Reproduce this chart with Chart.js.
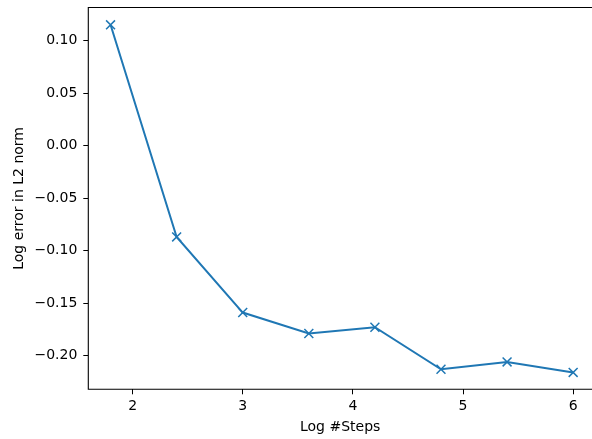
<!DOCTYPE html>
<html>
<head>
<meta charset="utf-8">
<script src="https://cdn.jsdelivr.net/npm/chart.js@4/dist/chart.umd.min.js"></script>
<style>
html,body{margin:0;padding:0;background:#fff;overflow:hidden;}
canvas{display:block;}
</style>
</head>
<body>
<canvas id="c" width="592" height="439" style="width:592px;height:439px"></canvas>
<script>
const logSteps = [1.8, 2.4, 3.0, 3.6, 4.2, 4.8, 5.4, 6.0];
const logError = [0.115, -0.087, -0.159, -0.179, -0.173, -0.213, -0.206, -0.216];
const xTicks = [2, 3, 4, 5, 6];
const yTicks = [-0.20, -0.15, -0.10, -0.05, 0.00, 0.05, 0.10];
const xTitle = 'Log #Steps';
const yTitle = 'Log error in L2 norm';

const FONT = "'DejaVu Sans', sans-serif";
// Axes frame; the right spine lies just outside the picture (cropped figure)
const frame = {
  id: 'frame',
  afterDatasetsDraw(chart) {
    const a = chart.chartArea, ctx = chart.ctx;
    ctx.save();
    ctx.strokeStyle = '#000';
    ctx.lineWidth = 1.1;
    ctx.beginPath();
    ctx.moveTo(chart.width + 2, a.top);
    ctx.lineTo(a.left, a.top);
    ctx.lineTo(a.left, a.bottom);
    ctx.lineTo(chart.width + 2, a.bottom);
    ctx.stroke();
    ctx.restore();
  }
};
function zeroPad(s) {
  s.paddingTop = 0; s.paddingBottom = 0; s.paddingLeft = 0; s.paddingRight = 0;
}

new Chart(document.getElementById('c'), {
  type: 'line',
  data: {
    datasets: [{
      data: logSteps.map((x, i) => ({x: x, y: logError[i]})),
      borderColor: '#1f77b4',
      backgroundColor: '#1f77b4',
      borderWidth: 2,
      pointStyle: 'crossRot',
      pointRadius: 6.3,
      pointHoverRadius: 6.3,
      pointBorderColor: '#1f77b4',
      pointBorderWidth: 1.5,
      tension: 0,
      fill: false,
      clip: false
    }]
  },
  options: {
    responsive: false,
    animation: false,
    events: [],
    layout: {autoPadding: false, padding: {top: 7.5, right: 0, bottom: 0, left: 0}},
    plugins: {legend: {display: false}, tooltip: {enabled: false}},
    scales: {
      x: {
        type: 'linear',
        min: 1.598, max: 6.171,
        afterBuildTicks: s => { s.ticks = xTicks.map(v => ({value: v})); },
        afterFit: s => { s.height = 49.7; zeroPad(s); },
        grid: {drawOnChartArea: false, drawTicks: true, tickLength: 5, tickColor: '#000', tickWidth: 1},
        border: {display: false},
        ticks: {autoSkip: false, maxRotation: 0, padding: 3.5, color: '#000', font: {family: FONT, size: 14},
          callback: v => String(v)},
        title: {display: true, text: xTitle, color: '#000', font: {family: FONT, size: 14}, padding: {top: 0, bottom: 3}}
      },
      y: {
        type: 'linear',
        min: -0.2321, max: 0.1315,
        afterBuildTicks: s => { s.ticks = yTicks.map(v => ({value: v})); },
        afterFit: s => { s.width = 88.3; zeroPad(s); },
        grid: {drawOnChartArea: false, drawTicks: true, tickLength: 5, tickColor: '#000', tickWidth: 1},
        border: {display: false},
        ticks: {autoSkip: false, padding: 6, color: '#000', font: {family: FONT, size: 14},
          callback: v => v.toFixed(2).replace('-', '\u2212')},
        title: {display: true, text: yTitle, color: '#000', font: {family: FONT, size: 14}, padding: {top: 11, bottom: 0}}
      }
    }
  },
  plugins: [frame]
});
</script>
</body>
</html>
